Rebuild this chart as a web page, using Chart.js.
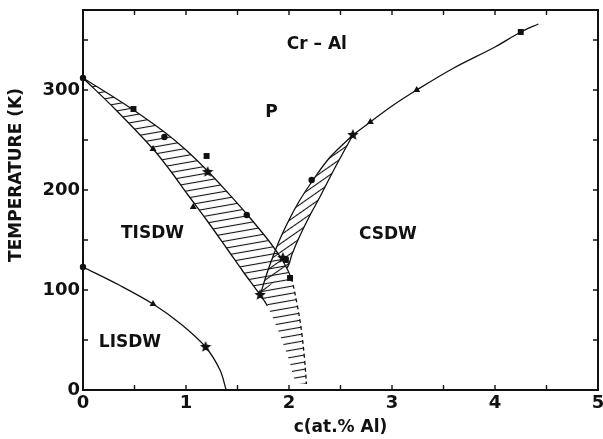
<!DOCTYPE html>
<html>
<head>
<meta charset="utf-8">
<script src="https://cdn.jsdelivr.net/npm/chart.js@4.4.1/dist/chart.umd.min.js"></script>
<style>html,body{margin:0;padding:0;background:#fff}</style>
</head>
<body>
<canvas id="phase" width="603" height="439"></canvas>
<script>
// Cr–Al magnetic phase diagram: transition temperature against Al concentration.

// Néel band between TISDW and P (upper / lower edges), running into the open tail near c = 2.1
const tnUpperC = [0, 0.25, 0.49, 0.79, 1.0, 1.21, 1.4, 1.59, 1.82, 1.94, 2.02, 2.08, 2.12, 2.15, 2.17];
const tnUpperT = [312, 296, 280, 258, 240, 219, 198, 176, 147, 129, 112, 85, 60, 32, 6];
const tnLowerC = [0, 0.32, 0.68, 0.85, 1.02, 1.2, 1.4, 1.55, 1.72, 1.79, 1.9, 2.0, 2.07, 2.17];
const tnLowerT = [312, 280, 241, 219, 195, 170, 141, 119, 95, 84, 58, 30, 8, 6];

// CSDW band (left / right edges) and the single CSDW–P line above it
const csLeftC = [1.72, 1.8, 1.9, 2.0, 2.1, 2.22, 2.4, 2.62];
const csLeftT = [95, 121, 148, 170, 189, 208, 233, 255];
const csRightC = [1.72, 1.98, 2.03, 2.1, 2.2, 2.3, 2.45, 2.62];
const csRightT = [95, 122, 136, 153, 174, 193, 223, 255];
const csLineC = [2.62, 2.79, 3.0, 3.24, 3.6, 4.0, 4.25, 4.42];
const csLineT = [255, 268, 284, 300, 322, 343, 358, 366];

// LISDW – TISDW spin-flip line
const sfC = [0, 0.35, 0.68, 0.95, 1.19, 1.33, 1.39];
const sfT = [123, 105, 86, 66, 43, 20, 0];

// measured points, grouped by symbol
const circleC = [0, 0.79, 1.59, 2.22, 0];
const circleT = [312, 253, 175, 210, 123];
const squareC = [0.49, 1.2, 1.97, 2.01, 4.25];
const squareT = [281, 234, 130, 112, 358];
const triangleC = [0.68, 1.07, 2.79, 3.24, 0.68];
const triangleT = [241, 183, 268, 300, 86];
const starC = [1.21, 1.94, 1.72, 2.62, 1.19];
const starT = [218, 132, 95, 255, 43];

// axis ticks and region labels
const xTickStep = 0.5;
const yTickStep = 50;
const phaseNames = ['Cr – Al', 'P', 'TISDW', 'CSDW', 'LISDW'];
const phaseC = [2.27, 1.83, 0.675, 2.96, 0.456];
const phaseT = [345, 277, 156, 155, 47];

const INK = '#111';
const FONT = 'DejaVu Sans';

const pts = (cs, ts) => cs.map((c, i) => ({x: c, y: ts[i]}));

const canvas = document.getElementById('phase');
const ctx2d = canvas.getContext('2d');

function hatch(angle, gap) {
  const tile = document.createElement('canvas');
  tile.width = 16; tile.height = gap;
  const g = tile.getContext('2d');
  g.strokeStyle = INK; g.lineWidth = 1.1;
  g.beginPath(); g.moveTo(0, gap / 2); g.lineTo(16, gap / 2); g.stroke();
  const p = ctx2d.createPattern(tile, 'repeat');
  p.setTransform(new DOMMatrix().rotateSelf(angle));
  return p;
}

function starGlyph(size) {
  const c = document.createElement('canvas');
  c.width = c.height = size;
  const g = c.getContext('2d');
  const r = size / 2, ri = r * 0.45;
  g.beginPath();
  for (let i = 0; i < 10; i++) {
    const a = -Math.PI / 2 + i * Math.PI / 5;
    const rr = i % 2 ? ri : r;
    g.lineTo(r + rr * Math.cos(a), r + rr * Math.sin(a));
  }
  g.closePath(); g.fillStyle = INK; g.fill();
  return c;
}

const curve = {
  showLine: true, pointRadius: 0, borderColor: INK, borderWidth: 1.3,
  tension: 0.35, fill: false
};
const marker = {showLine: false, borderColor: INK, backgroundColor: INK, borderWidth: 0, clip: false};

const inkPlugin = {
  id: 'ink',
  afterDraw(chart) {
    const {ctx, chartArea: a, scales: {x, y}} = chart;
    ctx.save();
    ctx.strokeStyle = INK;
    ctx.lineWidth = 2;
    ctx.strokeRect(a.left, a.top, a.right - a.left, a.bottom - a.top);
    ctx.lineWidth = 1.4;
    const len = 5;
    ctx.beginPath();
    x.ticks.forEach(t => {
      const px = x.getPixelForValue(t.value);
      ctx.moveTo(px, a.bottom); ctx.lineTo(px, a.bottom - len);
      ctx.moveTo(px, a.top); ctx.lineTo(px, a.top + len);
    });
    y.ticks.forEach(t => {
      const py = y.getPixelForValue(t.value);
      ctx.moveTo(a.left, py); ctx.lineTo(a.left + len, py);
      ctx.moveTo(a.right, py); ctx.lineTo(a.right - len, py);
    });
    ctx.stroke();

    ctx.fillStyle = INK;
    ctx.textAlign = 'center';
    ctx.textBaseline = 'middle';
    ctx.font = 'bold 17px "' + FONT + '"';
    phaseNames.forEach((name, i) => {
      ctx.fillText(name, x.getPixelForValue(phaseC[i]), y.getPixelForValue(phaseT[i]));
    });

    ctx.translate(a.left - 66, a.top + 165);
    ctx.rotate(-Math.PI / 2);
    ctx.fillText('TEMPERATURE (K)', 0, 0);
    ctx.restore();
  }
};

new Chart(canvas, {
  type: 'line',
  data: {
    datasets: [
      Object.assign({}, curve, {
        label: 'TN upper', data: pts(tnUpperC, tnUpperT),
        fill: 1, backgroundColor: hatch(-10, 7),
        segment: {borderDash: c => tnUpperT[c.p0DataIndex] <= 112 ? [4, 3] : undefined}
      }),
      Object.assign({}, curve, {
        label: 'TN lower', data: pts(tnLowerC, tnLowerT),
        segment: {borderColor: c => tnLowerT[c.p0DataIndex] <= 84 ? 'rgba(0,0,0,0)' : undefined}
      }),
      Object.assign({}, curve, {
        label: 'CSDW left', data: pts(csLeftC, csLeftT),
        fill: 3, backgroundColor: hatch(-35, 7)
      }),
      Object.assign({}, curve, {
        label: 'CSDW right', data: pts(csRightC, csRightT),
        segment: {borderColor: c => c.p0DataIndex === 0 ? 'rgba(0,0,0,0)' : undefined}
      }),
      Object.assign({}, curve, {label: 'CSDW line', data: pts(csLineC, csLineT)}),
      Object.assign({}, curve, {label: 'spin flip', data: pts(sfC, sfT)}),
      Object.assign({}, marker, {label: 'circles', data: pts(circleC, circleT), pointStyle: 'circle', pointRadius: 3.2}),
      Object.assign({}, marker, {label: 'squares', data: pts(squareC, squareT), pointStyle: 'rect', pointRadius: 4.2}),
      Object.assign({}, marker, {label: 'triangles', data: pts(triangleC, triangleT), pointStyle: 'triangle', pointRadius: 4}),
      Object.assign({}, marker, {label: 'stars', data: pts(starC, starT), pointStyle: starGlyph(12), pointRadius: 6})
    ]
  },
  options: {
    responsive: false,
    animation: false,
    events: [],
    layout: {padding: {left: 0, right: 5, top: 10, bottom: 0}, autoPadding: false},
    plugins: {legend: {display: false}, tooltip: {enabled: false}},
    scales: {
      x: {
        type: 'linear', min: 0, max: 5,
        grid: {display: false, drawTicks: false},
        border: {display: true, color: INK, width: 2},
        ticks: {
          stepSize: xTickStep, autoSkip: false, includeBounds: false, padding: 3,
          color: INK, font: {family: FONT, weight: 'bold', size: 18},
          callback: v => Number.isInteger(v) ? String(v) : ''
        },
        title: {
          display: true, text: 'c(at.% Al)', color: INK,
          font: {family: FONT, weight: 'bold', size: 17}, padding: {top: 0, bottom: 1}
        },
        afterFit(s) { s.height = 49; s.paddingLeft = 0; s.paddingRight = 0; }
      },
      y: {
        type: 'linear', min: 0, max: 380,
        grid: {display: false, drawTicks: false},
        border: {display: true, color: INK, width: 2},
        ticks: {
          stepSize: yTickStep, autoSkip: false, includeBounds: false, padding: 3,
          color: INK, font: {family: FONT, weight: 'bold', size: 18},
          callback: v => v % 100 === 0 ? String(v) : ''
        },
        afterFit(s) { s.width = 83; s.paddingTop = 0; s.paddingBottom = 0; }
      }
    }
  },
  plugins: [inkPlugin]
});
</script>
</body>
</html>
